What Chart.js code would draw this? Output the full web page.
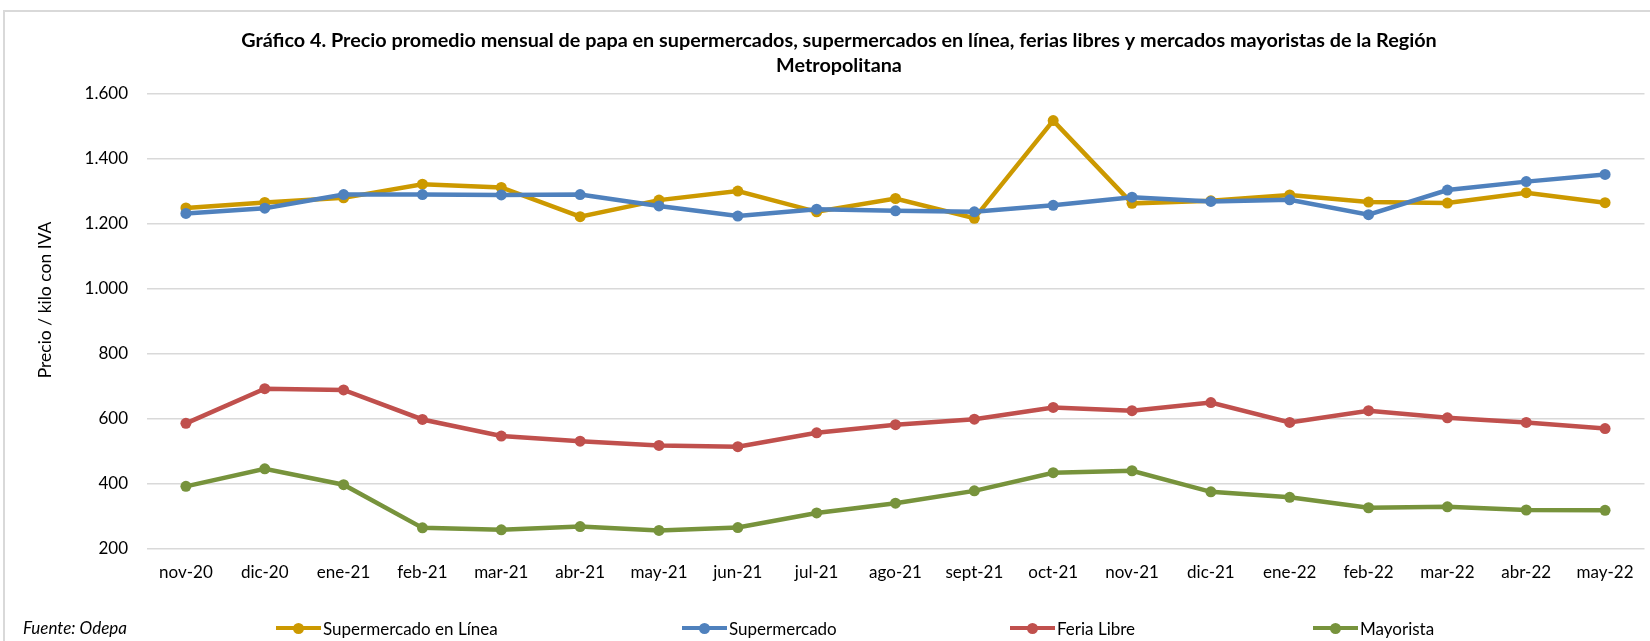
<!DOCTYPE html>
<html>
<head>
<meta charset="utf-8">
<script src="https://cdn.jsdelivr.net/npm/chart.js@4"></script>
<style>
  html, body { margin: 0; padding: 0; background: #ffffff; }
  #wrap { position: relative; width: 1650px; height: 641px; overflow: hidden; background: #fff; }
  #frame { position: absolute; left: 3px; top: 10px; width: 1650px; height: 700px; border: 2px solid #d9d9d9; box-sizing: border-box; }
  canvas { position: absolute; left: 0; top: 0; }
  .leg { position: absolute; top: 618px; height: 20px; display: flex; align-items: center; font: 17px Lato, sans-serif; color: #000; white-space: nowrap; }
  .leg .ln { position: relative; display: inline-block; width: 45px; height: 4px; }
  .leg .dt { position: absolute; left: 17px; top: -3.5px; width: 11px; height: 11px; border-radius: 50%; }
  .leg .tx { margin-left: 2px; }
  #src { position: absolute; left: 23px; top: 617px; font: italic 17px Lato, sans-serif; color: #000; }
</style>
</head>
<body>
<div id="wrap">
  <div id="frame"></div>
  <canvas id="c" width="1650" height="641"></canvas>
  <div id="src">Fuente: Odepa</div>
</div>
<script>
const categories = ['nov-20','dic-20','ene-21','feb-21','mar-21','abr-21','may-21','jun-21','jul-21','ago-21','sept-21','oct-21','nov-21','dic-21','ene-22','feb-22','mar-22','abr-22','may-22'];
const supermercadoEnLinea = [1249, 1266, 1280, 1322, 1312, 1222, 1273, 1301, 1237, 1278, 1217, 1518, 1263, 1271, 1289, 1267, 1264, 1296, 1265];
const supermercado = [1232, 1248, 1290, 1290, 1289, 1290, 1255, 1224, 1245, 1240, 1237, 1257, 1282, 1269, 1274, 1228, 1304, 1330, 1352];
const feriaLibre = [585, 692, 688, 597, 546, 530, 517, 513, 556, 581, 598, 634, 624, 649, 588, 624, 602, 588, 569];
const mayorista = [391, 445, 396, 263, 257, 267, 255, 264, 309, 339, 377, 433, 439, 374, 357, 325, 328, 318, 317];
const seriesNames = ['Supermercado en Línea', 'Supermercado', 'Feria Libre', 'Mayorista'];
const seriesColors = ['#CC9900', '#4F81BD', '#C0504D', '#77933C'];
const titleLines = ['Gráfico 4. Precio promedio mensual de papa en supermercados, supermercados en línea, ferias libres y mercados mayoristas de la Región', 'Metropolitana'];
const yAxisTitle = 'Precio / kilo con IVA';
const legendX = [276, 682, 1010, 1313];

Chart.defaults.font.family = 'Lato, sans-serif';
Chart.defaults.font.size = 17;
Chart.defaults.color = '#000';

const seriesValues = [supermercadoEnLinea, supermercado, feriaLibre, mayorista];
const datasets = seriesValues.map((vals, i) => ({
  label: seriesNames[i],
  data: vals,
  borderColor: seriesColors[i],
  backgroundColor: seriesColors[i],
  borderWidth: 4.5,
  pointRadius: 5.5,
  pointHoverRadius: 5.5,
  pointBorderWidth: 0,
  tension: 0,
  order: [3, 2, 1, 0][i]
}));

const yTitlePlugin = {
  id: 'yTitle',
  afterDraw(chart) {
    const ctx = chart.ctx;
    ctx.save();
    ctx.translate(45, 300);
    ctx.rotate(-Math.PI / 2);
    ctx.textAlign = 'center';
    ctx.textBaseline = 'middle';
    ctx.fillStyle = '#000';
    ctx.font = '17.5px Lato, sans-serif';
    ctx.fillText(yAxisTitle, 0, 0);
    ctx.restore();
  }
};

const chart = new Chart(document.getElementById('c'), {
  type: 'line',
  data: { labels: categories, datasets },
  options: {
    responsive: false,
    animation: false,
    devicePixelRatio: 1,
    layout: { padding: { left: 30.5, right: 2.5, top: 0, bottom: 0 } },
    plugins: {
      legend: { display: false },
      tooltip: { enabled: false },
      title: {
        display: true,
        text: titleLines,
        font: { family: 'Lato, sans-serif', size: 19.8, weight: 'bold', lineHeight: 1.22 },
        color: '#000',
        padding: { top: 29, bottom: 16.7 }
      }
    },
    scales: {
      x: {
        offset: true,
        grid: { display: false, drawTicks: false },
        border: { display: false },
        ticks: { padding: 14, maxRotation: 0, autoSkip: false, color: '#000' },
        afterFit(scale) { scale.height = 92.7; }
      },
      y: {
        min: 200,
        max: 1600,
        grid: { color: '#d9d9d9', lineWidth: 1.5, drawTicks: false },
        border: { display: false },
        ticks: {
          stepSize: 200,
          padding: 18.5,
          color: '#000',
          callback: (v) => String(v).replace(/\B(?=(\d{3})+(?!\d))/g, '.')
        },
        afterFit(scale) { scale.width = 116; }
      }
    }
  },
  plugins: [yTitlePlugin]
});

const wrap = document.getElementById('wrap');
chart.data.datasets.forEach((ds, i) => {
  const item = document.createElement('div');
  item.className = 'leg';
  item.style.left = legendX[i] + 'px';
  const ln = document.createElement('span');
  ln.className = 'ln';
  ln.style.background = ds.borderColor;
  const dt = document.createElement('span');
  dt.className = 'dt';
  dt.style.background = ds.backgroundColor;
  ln.appendChild(dt);
  const tx = document.createElement('span');
  tx.className = 'tx';
  tx.textContent = ds.label;
  item.appendChild(ln);
  item.appendChild(tx);
  wrap.appendChild(item);
});
</script>
</body>
</html>
